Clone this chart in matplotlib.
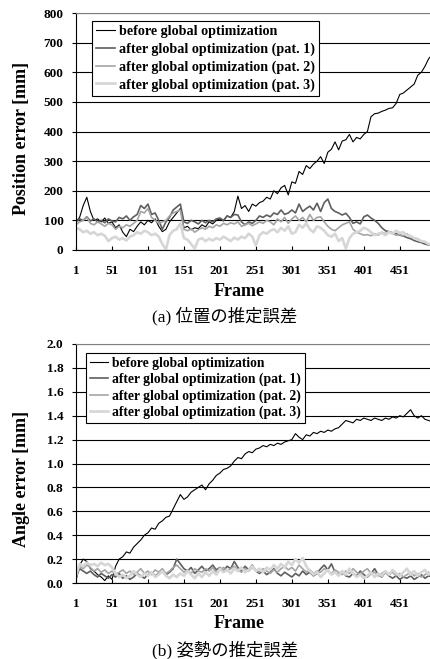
import matplotlib
matplotlib.use("Agg")
import matplotlib.pyplot as plt

# frame index (sampled every 5 frames)
frames = list(range(1, 497, 5))

series_names = [
    "before global optimization",
    "after global optimization (pat. 1)",
    "after global optimization (pat. 2)",
    "after global optimization (pat. 3)",
]

# position error [mm]
pos_before = [95, 110, 150, 178, 130, 100, 105, 95, 108, 90,
              95, 75, 85, 60, 45, 70, 62, 80, 95, 85,
              100, 92, 105, 80, 62, 70, 95, 110, 125, 140,
              75, 80, 68, 75, 72, 85, 78, 95, 88, 100,
              105, 98, 115, 110, 130, 182, 140, 150, 130, 155,
              148, 160, 165, 178, 172, 200, 190, 210, 218, 186,
              230, 225, 265, 255, 285, 275, 290, 300, 315, 292,
              330, 340, 365, 338, 368, 372, 390, 365, 380, 375,
              390, 400, 450, 460, 462, 468, 472, 478, 480, 495,
              525, 530, 540, 550, 560, 590, 600, 620, 645, 660]
pos_pat1 = [95, 105, 100, 112, 98, 105, 95, 100, 92, 105,
            98, 95, 110, 105, 115, 100, 112, 120, 150, 140,
            155, 120, 125, 100, 70, 95, 110, 135, 145, 155,
            95, 90, 100, 95, 88, 100, 92, 100, 95, 105,
            108, 100, 115, 110, 120, 118, 95, 85, 95, 90,
            100, 115, 110, 118, 112, 125, 120, 135, 120, 125,
            135, 125, 155, 130, 140, 148, 135, 158, 130, 160,
            172, 140, 130, 125, 118, 124, 110, 90, 95, 88,
            112, 118, 108, 100, 90, 75, 65, 62, 58, 55,
            50, 47, 42, 38, 32, 28, 25, 20, 17, 15]
pos_pat2 = [85, 95, 100, 110, 90, 85, 95, 88, 80, 90,
            85, 70, 80, 75, 85, 80, 90, 100, 130, 125,
            140, 110, 100, 90, 95, 100, 115, 125, 130, 135,
            70, 65, 72, 60, 68, 75, 70, 80, 75, 85,
            80, 90, 85, 92, 88, 95, 80, 85, 90, 82,
            88, 95, 90, 100, 95, 85, 105, 95, 110, 90,
            105, 115, 100, 110, 95, 120, 100, 110, 112, 95,
            80, 70, 65, 75, 85, 90, 95, 70, 60, 55,
            50, 52, 48, 55, 50, 60, 55, 62, 55, 50,
            52, 48, 55, 45, 40, 38, 30, 25, 20, 15]
pos_pat3 = [75, 70, 60, 65, 55, 60, 50, 55, 48, 30,
            40, 45, 35, 40, 32, 45, 50, 60, 55, 65,
            60, 50, 55, 45, 20, 2, 50, 65, 70, 90,
            40, 35, 20, 5, 35, 40, 30, 38, 32, 40,
            35, 45, 38, 30, 42, 35, 45, 40, 55, 45,
            15, 50, 60, 55, 65, 70, 60, 75, 65, 80,
            55, 60, 85, 75, 90, 70, 60, 80, 75, 65,
            50, 45, 55, 30, 40, 5, 40, 55, 60, 65,
            75, 70, 60, 50, 55, 58, 50, 60, 55, 65,
            58, 60, 50, 48, 40, 35, 30, 28, 20, 18]

# angle error
ang_before = [0.02, 0.15, 0.20, 0.18, 0.12, 0.10, 0.07, 0.05, 0.02, 0.06,
              0.03, 0.14, 0.20, 0.22, 0.26, 0.25, 0.30, 0.33, 0.36, 0.40,
              0.42, 0.46, 0.45, 0.50, 0.52, 0.55, 0.56, 0.62, 0.68, 0.74,
              0.70, 0.72, 0.76, 0.78, 0.80, 0.82, 0.78, 0.83, 0.86, 0.90,
              0.92, 0.95, 0.96, 0.98, 1.02, 1.05, 1.04, 1.08, 1.10, 1.09,
              1.12, 1.13, 1.15, 1.14, 1.16, 1.15, 1.17, 1.16, 1.18, 1.19,
              1.20, 1.25, 1.22, 1.20, 1.24, 1.23, 1.26, 1.25, 1.27, 1.26,
              1.28, 1.27, 1.29, 1.30, 1.33, 1.36, 1.35, 1.34, 1.37, 1.36,
              1.38, 1.37, 1.36, 1.38, 1.37, 1.36, 1.38, 1.37, 1.39, 1.38,
              1.40, 1.39, 1.42, 1.45, 1.40, 1.38, 1.40, 1.37, 1.36, 1.35]
ang_pat1 = [0.05, 0.12, 0.10, 0.08, 0.10, 0.07, 0.05, 0.08, 0.06, 0.04,
            0.07, 0.05, 0.08, 0.04, 0.06, 0.03, 0.05, 0.08, 0.06, 0.04,
            0.07, 0.09, 0.06, 0.08, 0.10, 0.07, 0.09, 0.12, 0.20, 0.16,
            0.12, 0.10, 0.13, 0.08, 0.11, 0.14, 0.10, 0.12, 0.15, 0.11,
            0.13, 0.10, 0.14, 0.12, 0.18, 0.13, 0.10, 0.14, 0.11, 0.15,
            0.10, 0.08, 0.10, 0.07, 0.09, 0.12, 0.08, 0.06, 0.09, 0.07,
            0.05, 0.08, 0.06, 0.10, 0.07, 0.09, 0.06, 0.08, 0.12, 0.15,
            0.11, 0.16, 0.09, 0.07, 0.10, 0.06, 0.05, 0.08, 0.06, 0.10,
            0.07, 0.05, 0.08, 0.12, 0.07, 0.05, 0.09, 0.06, 0.04, 0.06,
            0.03, 0.05, 0.04, 0.06, 0.03, 0.05, 0.07, 0.04, 0.06, 0.05]
ang_pat2 = [0.08, 0.14, 0.12, 0.15, 0.13, 0.10, 0.12, 0.09, 0.11, 0.08,
            0.10, 0.07, 0.09, 0.11, 0.08, 0.10, 0.07, 0.09, 0.12, 0.08,
            0.10, 0.07, 0.11, 0.09, 0.12, 0.08, 0.10, 0.13, 0.15, 0.12,
            0.09, 0.11, 0.08, 0.12, 0.10, 0.09, 0.12, 0.10, 0.13, 0.09,
            0.11, 0.13, 0.10, 0.12, 0.14, 0.11, 0.09, 0.12, 0.10, 0.13,
            0.11, 0.09, 0.12, 0.10, 0.08, 0.11, 0.09, 0.12, 0.14, 0.11,
            0.13, 0.10, 0.15, 0.12, 0.09, 0.11, 0.08, 0.10, 0.09, 0.12,
            0.10, 0.08, 0.11, 0.09, 0.07, 0.10, 0.08, 0.12, 0.09, 0.07,
            0.10, 0.12, 0.08, 0.09, 0.06, 0.08, 0.10, 0.07, 0.09, 0.06,
            0.08, 0.05, 0.07, 0.09, 0.06, 0.08, 0.05, 0.07, 0.09, 0.06]
ang_pat3 = [0.06, 0.16, 0.14, 0.17, 0.15, 0.16, 0.14, 0.17, 0.15, 0.16,
            0.13, 0.08, 0.05, 0.07, 0.04, 0.06, 0.10, 0.07, 0.05, 0.08,
            0.06, 0.09, 0.05, 0.07, 0.10, 0.06, 0.04, 0.07, 0.05, 0.08,
            0.06, 0.10, 0.07, 0.04, 0.08, 0.05, 0.09, 0.06, 0.10, 0.07,
            0.12, 0.09, 0.11, 0.08, 0.12, 0.10, 0.13, 0.09, 0.11, 0.14,
            0.10, 0.12, 0.09, 0.13, 0.11, 0.15, 0.12, 0.16, 0.13, 0.18,
            0.15, 0.20, 0.17, 0.21, 0.14, 0.10, 0.07, 0.09, 0.05, 0.08,
            0.11, 0.07, 0.09, 0.06, 0.10, 0.07, 0.12, 0.08, 0.05, 0.07,
            0.04, 0.06, 0.09, 0.05, 0.08, 0.06, 0.10, 0.07, 0.11, 0.08,
            0.06, 0.09, 0.12, 0.07, 0.10, 0.06, 0.09, 0.11, 0.07, 0.10]

xticks = [1, 51, 101, 151, 201, 251, 301, 351, 401, 451]
colors = ["#000000", "#5f5f5f", "#a5a5a5", "#d6d6d6"]
widths = [0.8, 1.2, 1.2, 1.9]

serif = "Liberation Serif"
caption_font = ["Liberation Serif", "Noto Sans CJK JP"]

fig = plt.figure(figsize=(4.3, 6.59), dpi=100)
W, H = 430, 659


def make_axes(top, bottom, series, ymax, ystep, fmt, ylabel, ylab_y,
              leg_anchor, leg_size, leg_space, caption, frame_y, caption_y):
    ax = fig.add_axes([76 / W, 1 - bottom / H, (W - 76) / W, (bottom - top) / H])
    for vals, c, lw, name in zip(series, colors, widths, series_names):
        ax.plot(frames, vals, color=c, linewidth=lw, label=name)
    ax.set_xlim(1, 493)
    ax.set_ylim(0, ymax)
    yt = [i * ystep for i in range(int(round(ymax / ystep)) + 1)]
    ax.set_yticks(yt)
    ax.set_yticklabels([fmt.format(v) for v in yt])
    ax.set_xticks(xticks)
    ax.set_xticklabels([str(t) for t in xticks])
    for lab in ax.get_xticklabels() + ax.get_yticklabels():
        lab.set_fontfamily(serif)
        lab.set_fontweight("bold")
        lab.set_fontsize(9.5)
    ax.tick_params(axis="x", direction="in", length=3, pad=11, color="black")
    ax.tick_params(axis="y", direction="out", length=3, pad=6, color="black")
    ax.grid(axis="y", color="black", linewidth=0.8)
    ax.set_axisbelow(True)
    ax.spines["right"].set_visible(False)
    ax.spines["top"].set_color("#808080")
    ax.spines["left"].set_color("black")
    ax.spines["bottom"].set_color("black")
    leg = ax.legend(loc="upper left", bbox_to_anchor=leg_anchor, borderaxespad=0,
                    fancybox=False, framealpha=1, edgecolor="black",
                    prop={"family": serif, "weight": "bold", "size": leg_size},
                    handlelength=1.3, handletextpad=0.3, labelspacing=leg_space,
                    borderpad=0.3)
    leg.get_frame().set_linewidth(0.8)
    fig.text(22 / W, ylab_y, ylabel, rotation=90, ha="center", va="center",
             family=serif, weight="bold", fontsize=13)
    fig.text(239 / W, 1 - frame_y / H, "Frame", ha="center", va="center",
             family=serif, weight="bold", fontsize=13)
    fig.text(225 / W, 1 - caption_y / H, caption, ha="center", va="center",
             family=caption_font, fontsize=12.5)
    return ax


make_axes(13, 250, [pos_before, pos_pat1, pos_pat2, pos_pat3], 800, 100, "{:.0f}",
          "Position error [mm]", 1 - 138.5 / H, (0.045, 0.966), 10.2, 0.3,
          "(a) 位置の推定誤差", 292, 316)
make_axes(344, 583, [ang_before, ang_pat1, ang_pat2, ang_pat3], 2.0, 0.2, "{:.1f}",
          "Angle error [mm]", 1 - 479 / H, (0.028, 0.962), 9.8, 0.2,
          "(b) 姿勢の推定誤差", 623, 650)

fig.savefig("out.png", dpi=100)
